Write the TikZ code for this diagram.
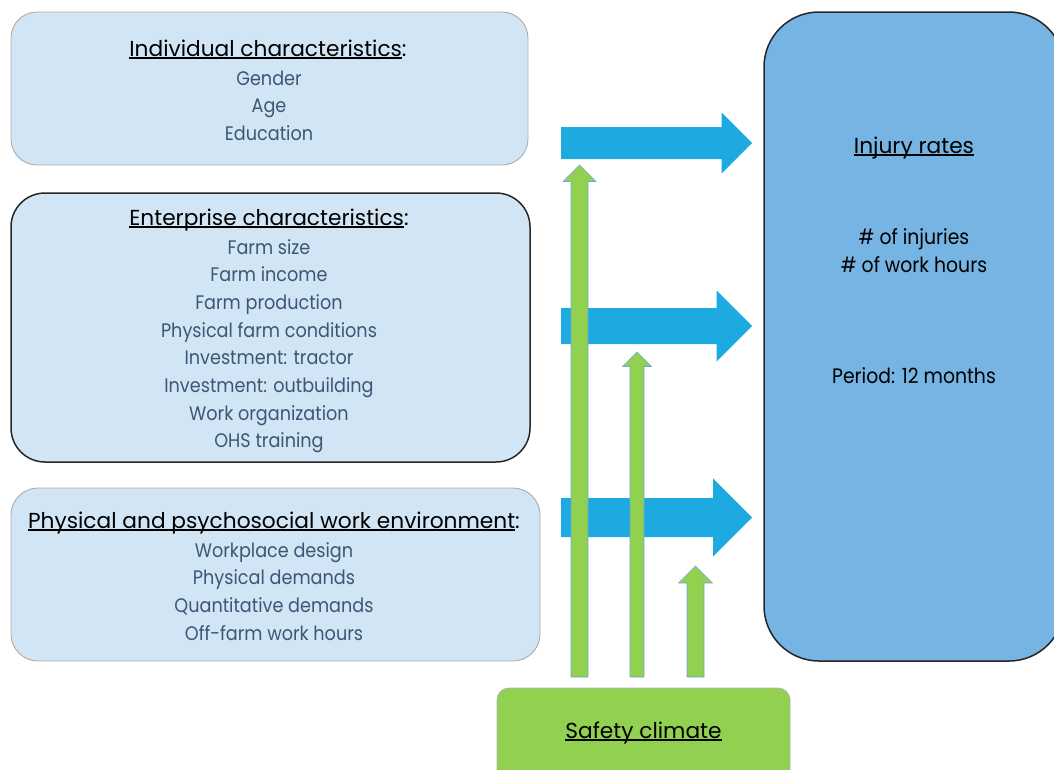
\documentclass[tikz,border=0pt]{standalone}
\usepackage{fontspec}
\setmainfont[FakeStretch=0.9]{Poppins}
\newfontfamily\headfont{Poppins}
\usepackage{tikz}
\usetikzlibrary{calc}
\definecolor{boxblue}{HTML}{D2E5F4}
\definecolor{injblue}{HTML}{75B4E3}
\definecolor{arrblue}{HTML}{1DAAE1}
\definecolor{safegreen}{HTML}{92D050}
\definecolor{itemtext}{HTML}{3A5775}
\definecolor{greenedge}{HTML}{6FA8DC}
\tikzstyle{factor} = [rectangle, fill=boxblue, inner sep=0pt]
\tikzstyle{item} = [anchor=base, text=itemtext, inner sep=0pt, font=\fontsize{19.6}{19.6}\selectfont]
\tikzstyle{result} = [anchor=base, text=black, inner sep=0pt, font=\fontsize{20.9}{20.9}\selectfont]
\tikzstyle{heading} = [anchor=base, inner sep=0pt, font=\headfont\fontsize{21.7}{21.7}\selectfont]

\newcommand\ulabel[1]{\setbox0\hbox{#1}\rlap{\rule[-2.8pt]{\wd0}{1.6pt}}\box0}
% block arrow to the right: start, tip, half shaft, half head
\newcommand\rarrow[4]{\fill[arrblue] ($(#1)+(0,-#3)$) -- ($(#2)+(-#4,-#3)$) -- ($(#2)+(-#4,-#4)$) -- (#2) -- ($(#2)+(-#4,#4)$) -- ($(#2)+(-#4,#3)$) -- ($(#1)+(0,#3)$) -- cycle;}
% block arrow upwards
\newcommand\uarrow[4]{\filldraw[fill=safegreen, draw=greenedge, line width=0.6pt] ($(#1)+(-#3,0)$) -- ($(#2)+(-#3,#4)$) -- ($(#2)+(-#4,#4)$) -- (#2) -- ($(#2)+(#4,#4)$) -- ($(#2)+(#3,#4)$) -- ($(#1)+(#3,0)$) -- cycle;}

\begin{document}
\begin{tikzpicture}[x=1pt,y=-1pt]
\clip (0,0) rectangle (1054,769);

% boxes
\node[factor, draw=gray!65, line width=0.9pt, rounded corners=26pt, minimum width=517pt, minimum height=153pt] (indiv) at (269.5,88.5) {};
\node[factor, draw=black!85, line width=1.5pt, rounded corners=34pt, minimum width=519pt, minimum height=269pt] (enter) at (270.5,327.5) {};
\node[factor, draw=gray!65, line width=0.9pt, rounded corners=27pt, minimum width=529pt, minimum height=173pt] (phys) at (275.5,574.5) {};
\node[fill=injblue, draw=black!85, line width=1.5pt, rounded corners=55pt, minimum width=300pt, minimum height=649pt] (injury) at (914,336.5) {};
\node[fill=safegreen, draw=gray!60, line width=0.8pt, rounded corners=12pt, minimum width=293pt, minimum height=100pt] (safety) at (643.5,738) {};

% arrows
\coordinate (b1s) at (561,143);   \coordinate (b1e) at (752,143);
\coordinate (b2s) at (561,326);   \coordinate (b2e) at (752,326);
\coordinate (b3s) at (561,517.5); \coordinate (b3e) at (752,517.5);
\rarrow{b1s}{b1e}{16}{30.5}
\rarrow{b2s}{b2e}{18}{35.5}
\rarrow{b3s}{b3e}{19.5}{39}
\coordinate (g1s) at (579.5,677); \coordinate (g1e) at (579.5,165);
\coordinate (g2s) at (637,677);   \coordinate (g2e) at (637,352);
\coordinate (g3s) at (695.5,677); \coordinate (g3e) at (695.5,566);
\uarrow{g1s}{g1e}{8.5}{16.5}
\uarrow{g2s}{g2e}{7}{14.5}
\uarrow{g3s}{g3e}{8.5}{17}

% texts
\node[heading] (indiv-title) at (268,56) {\ulabel{Individual characteristics}:};
\foreach \t [count=\i] in {Gender,Age,Education}
	\node[item] (indiv-\i) at (269,85+27.5*\i-27.5) {\t};

\node[heading] (enter-title) at (269,225) {\ulabel{Enterprise characteristics}:};
\foreach \t [count=\i] in {Farm size,Farm income,Farm production,Physical farm conditions,Investment: tractor,Investment: outbuilding,Work organization,OHS training}
	\node[item] (enter-\i) at (269,254+27.7*\i-27.7) {\t};

\node[heading] (phys-title) at (274,528) {\ulabel{Physical and psychosocial work environment}:};
\foreach \t [count=\i] in {Workplace design,Physical demands,Quantitative demands,Off-farm work hours}
	\node[item] (phys-\i) at (274,557+27.8*\i-27.8) {\t};

\node[heading] (injury-title) at (914,153) {\ulabel{Injury rates}};
\node[result] (injury-1) at (914,244) {\# of injuries};
\node[result] (injury-2) at (914,272) {\# of work hours};
\node[result] (injury-3) at (914,383) {Period: 12 months};

\node[heading] (safety-title) at (643.5,738) {\ulabel{Safety climate}};
\end{tikzpicture}
\end{document}
